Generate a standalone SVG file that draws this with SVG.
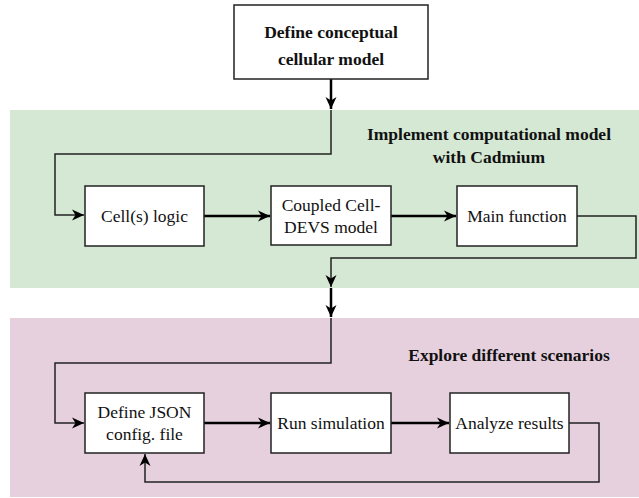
<svg xmlns="http://www.w3.org/2000/svg" width="639" height="498" viewBox="0 0 639 498">
  <defs>
    <style>
      .band-green { fill: #d5e8d4; stroke: none; }
      .band-mauve { fill: #e6d0de; stroke: none; }
      .box { fill: #ffffff; stroke: #222222; stroke-width: 1.5; }
      text { font-family: 'Liberation Serif', 'DejaVu Serif', 'Noto Serif', serif; fill: #111111; text-anchor: middle; }
      .lbl { font-size: 17.5px; }
      .title { font-size: 17.5px; font-weight: bold; }
      .thick { fill: none; stroke: #000000; stroke-width: 2.5; }
      .thin { fill: none; stroke: #222222; stroke-width: 1.5; }
    </style>
    <marker id="arr" markerUnits="userSpaceOnUse" markerWidth="13" markerHeight="12" refX="12" refY="6" orient="auto" viewBox="0 0 13 12">
      <path d="M0,0.5 L12,6 L0,11.5 L3.5,6 z" fill="#000000"/>
    </marker>
  </defs>

  <g id="band-implement">
    <rect class="band-green" x="10" y="110" width="629" height="178"/>
    <text class="title" font-family="Liberation Serif, serif" x="489" y="140">Implement computational model</text>
    <text class="title" font-family="Liberation Serif, serif" x="489" y="163">with Cadmium</text>
  </g>
  <g id="band-explore">
    <rect class="band-mauve" x="10" y="318" width="629" height="179"/>
    <text class="title" font-family="Liberation Serif, serif" x="509" y="361">Explore different scenarios</text>
  </g>

  <g id="connectors">
    <path class="thick" d="M331,79 L331,109" marker-end="url(#arr)"/>
    <path class="thin" d="M331,110 L331,154 L55,154 L55,215 L84,215" marker-end="url(#arr)"/>
    <path class="thick" d="M204,216 L270,216" marker-end="url(#arr)"/>
    <path class="thick" d="M391,216 L456,216" marker-end="url(#arr)"/>
    <path class="thin" d="M577,216 L636,216 L636,258 L331,258 L331,287" marker-end="url(#arr)"/>
    <path class="thick" d="M331,288 L331,317" marker-end="url(#arr)"/>
    <path class="thin" d="M331,318 L331,363 L55,363 L55,423 L84,423" marker-end="url(#arr)"/>
    <path class="thick" d="M204,423 L270,423" marker-end="url(#arr)"/>
    <path class="thick" d="M391,423 L449,423" marker-end="url(#arr)"/>
    <path class="thin" d="M569,423 L599,423 L599,482 L145,482 L145,454" marker-end="url(#arr)"/>
  </g>

  <g id="node-define-conceptual">
    <rect class="box" x="234" y="5" width="194" height="74"/>
    <text class="title" font-family="Liberation Serif, serif" x="331" y="38">Define conceptual</text>
    <text class="title" font-family="Liberation Serif, serif" x="331" y="65">cellular model</text>
  </g>
  <g id="node-cell-logic">
    <rect class="box" x="85" y="186" width="119" height="60"/>
    <text class="lbl" font-family="Liberation Serif, serif" x="144.5" y="222">Cell(s) logic</text>
  </g>
  <g id="node-coupled">
    <rect class="box" x="271" y="186" width="120" height="59"/>
    <text class="lbl" font-family="Liberation Serif, serif" x="331" y="211">Coupled Cell-</text>
    <text class="lbl" font-family="Liberation Serif, serif" x="331" y="233">DEVS model</text>
  </g>
  <g id="node-main">
    <rect class="box" x="457" y="186" width="120" height="60"/>
    <text class="lbl" font-family="Liberation Serif, serif" x="517" y="222">Main function</text>
  </g>
  <g id="node-define-json">
    <rect class="box" x="85" y="393" width="119" height="60"/>
    <text class="lbl" font-family="Liberation Serif, serif" x="144.5" y="418">Define JSON</text>
    <text class="lbl" font-family="Liberation Serif, serif" x="144.5" y="440">config. file</text>
  </g>
  <g id="node-run">
    <rect class="box" x="271" y="393" width="120" height="60"/>
    <text class="lbl" font-family="Liberation Serif, serif" x="331" y="429">Run simulation</text>
  </g>
  <g id="node-analyze">
    <rect class="box" x="450" y="393" width="119" height="60"/>
    <text class="lbl" font-family="Liberation Serif, serif" x="509.5" y="429">Analyze results</text>
  </g>
</svg>
